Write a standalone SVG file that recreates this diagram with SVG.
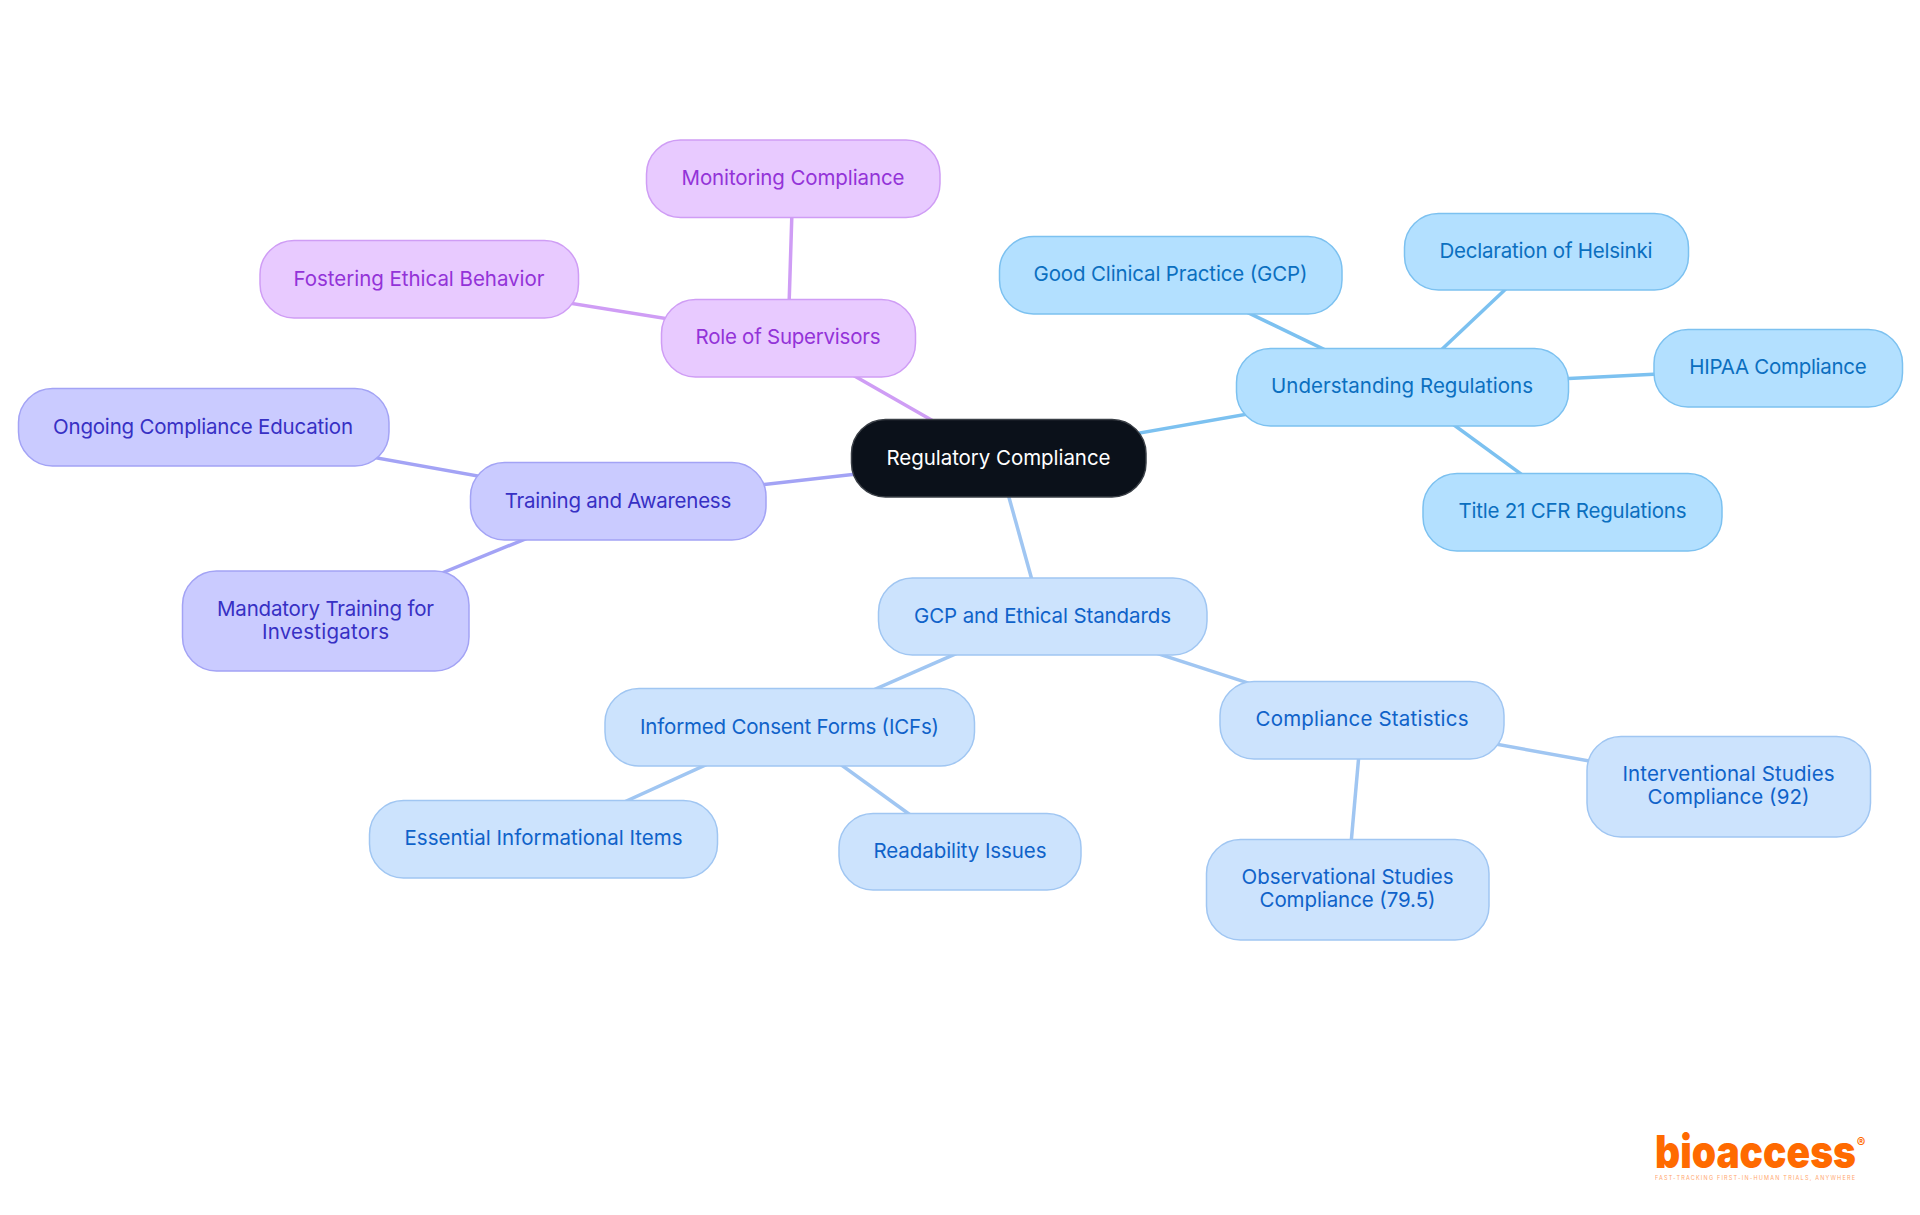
<svg xmlns="http://www.w3.org/2000/svg" width="1920" height="1215" viewBox="0 0 1920 1215">
<style>
text{font-family:"Inter","Noto Sans",sans-serif;font-size:20.5px;text-anchor:middle}
rect{stroke-width:1.5}
#connectors line{stroke-width:3.5;fill:none}
.sky rect{fill:#b3e0ff;stroke:#7cc1f0}.sky text{fill:#0b6fbf}.lsky{stroke:#7cc1f0}
.blue rect{fill:#cce3fd;stroke:#a0c6f2}.blue text{fill:#0f62c9}.lblue{stroke:#a0c6f2}
.ind rect{fill:#cacbff;stroke:#a3a3f5}.ind text{fill:#3730c4}.lind{stroke:#a3a3f5}
.pur rect{fill:#e8caff;stroke:#cf9df5}.pur text{fill:#9333d8}.lpur{stroke:#cf9df5}
.root rect{fill:#0b111a;stroke:#3a3f46}.root text{fill:#fff}
</style>
<rect width="1920" height="1215" fill="#fff" stroke="none"/>
<g id="connectors">
<line class="lsky" x1="998" y1="458" x2="1402" y2="387"/>
<line class="lsky" x1="1402" y1="387" x2="1170" y2="275"/>
<line class="lsky" x1="1402" y1="387" x2="1546" y2="251"/>
<line class="lsky" x1="1402" y1="387" x2="1778" y2="368"/>
<line class="lsky" x1="1402" y1="387" x2="1573" y2="512"/>
<line class="lblue" x1="998" y1="458" x2="1042" y2="616"/>
<line class="lblue" x1="1042" y1="616" x2="789" y2="727"/>
<line class="lblue" x1="1042" y1="616" x2="1362" y2="720"/>
<line class="lblue" x1="789" y1="727" x2="543" y2="839"/>
<line class="lblue" x1="789" y1="727" x2="960" y2="851"/>
<line class="lblue" x1="1362" y1="720" x2="1347" y2="889"/>
<line class="lblue" x1="1362" y1="720" x2="1728" y2="786"/>
<line class="lind" x1="998" y1="458" x2="618" y2="501"/>
<line class="lind" x1="618" y1="501" x2="203" y2="427"/>
<line class="lind" x1="618" y1="501" x2="325" y2="621"/>
<line class="lpur" x1="998" y1="458" x2="788" y2="338"/>
<line class="lpur" x1="788" y1="338" x2="793" y2="179"/>
<line class="lpur" x1="788" y1="338" x2="419" y2="279"/>
</g>
<g id="root" class="root"><rect x="851.500" y="419.500" width="294.500" height="77.500" rx="34"/><text x="998.500" y="464.500" textLength="224">Regulatory Compliance</text></g>
<g id="understanding" class="sky"><rect x="1236.500" y="348.500" width="332" height="77.500" rx="34"/><text x="1402" y="393" textLength="262">Understanding Regulations</text></g>
<g id="good" class="sky"><rect x="999.500" y="236.500" width="342.500" height="77.500" rx="34"/><text x="1170.500" y="281" textLength="274">Good Clinical Practice (GCP)</text></g>
<g id="helsinki" class="sky"><rect x="1404.500" y="213.500" width="284" height="76.500" rx="34"/><text x="1546" y="257.500" textLength="213">Declaration of Helsinki</text></g>
<g id="hipaa" class="sky"><rect x="1654" y="329.500" width="248.500" height="77.500" rx="34"/><text x="1778" y="374" textLength="177.500">HIPAA Compliance</text></g>
<g id="title21" class="sky"><rect x="1423" y="473.500" width="299" height="77.500" rx="34"/><text x="1572.500" y="518" textLength="228">Title 21 CFR Regulations</text></g>
<g id="gcp" class="blue"><rect x="878.500" y="578" width="328.500" height="77" rx="34"/><text x="1042.500" y="623" textLength="257">GCP and Ethical Standards</text></g>
<g id="icf" class="blue"><rect x="605" y="688.500" width="369.500" height="77.500" rx="34"/><text x="789.500" y="733.500" textLength="299">Informed Consent Forms (ICFs)</text></g>
<g id="essential" class="blue"><rect x="369.500" y="800.500" width="348" height="77.500" rx="34"/><text x="543.500" y="845" textLength="278">Essential Informational Items</text></g>
<g id="readability" class="blue"><rect x="839" y="813.500" width="242" height="76.500" rx="34"/><text x="960" y="858" textLength="173">Readability Issues</text></g>
<g id="stats" class="blue"><rect x="1220" y="681.500" width="284" height="77.500" rx="34"/><text x="1362" y="726" textLength="213">Compliance Statistics</text></g>
<g id="interventional" class="blue"><rect x="1587" y="736.500" width="283.500" height="100.500" rx="34"/><text x="1728.500" y="781" textLength="212">Interventional Studies</text><text x="1728.500" y="804" textLength="162">Compliance (92)</text></g>
<g id="observational" class="blue"><rect x="1206.500" y="839.500" width="282.500" height="100.500" rx="34"/><text x="1347.500" y="884" textLength="212">Observational Studies</text><text x="1347.500" y="907" textLength="176">Compliance (79.5)</text></g>
<g id="training" class="ind"><rect x="470.500" y="462.500" width="295.500" height="77.500" rx="34"/><text x="618" y="507.500" textLength="226.500">Training and Awareness</text></g>
<g id="ongoing" class="ind"><rect x="18.500" y="388.500" width="370.500" height="77.500" rx="34"/><text x="203" y="433.500" textLength="300">Ongoing Compliance Education</text></g>
<g id="mandatory" class="ind"><rect x="182.500" y="571" width="286.500" height="100" rx="34"/><text x="325.500" y="616" textLength="217">Mandatory Training for</text><text x="325.500" y="639" textLength="127">Investigators</text></g>
<g id="role" class="pur"><rect x="661.500" y="299.500" width="254" height="77.500" rx="34"/><text x="788" y="344" textLength="185">Role of Supervisors</text></g>
<g id="monitoring" class="pur"><rect x="646.500" y="140" width="293.500" height="77.500" rx="34"/><text x="793" y="185" textLength="223">Monitoring Compliance</text></g>
<g id="fostering" class="pur"><rect x="260" y="240.500" width="318.500" height="77.500" rx="34"/><text x="419" y="286" textLength="251">Fostering Ethical Behavior</text></g>
<g id="logo">
<text x="1755.500" y="1168" style="font-family:'Inter',sans-serif;font-weight:900;font-size:46px;fill:#ff6a00" textLength="201" lengthAdjust="spacingAndGlyphs">bioaccess</text>
<text x="1861" y="1147" style="font-family:'Inter',sans-serif;font-weight:700;font-size:13px;fill:#ff6a00">®</text>
<text x="1755" y="1180" style="font-family:'Inter',sans-serif;font-size:5.5px;fill:#ff6a00;opacity:.6" textLength="200">FAST-TRACKING FIRST-IN-HUMAN TRIALS, ANYWHERE</text>
</g>
</svg>
